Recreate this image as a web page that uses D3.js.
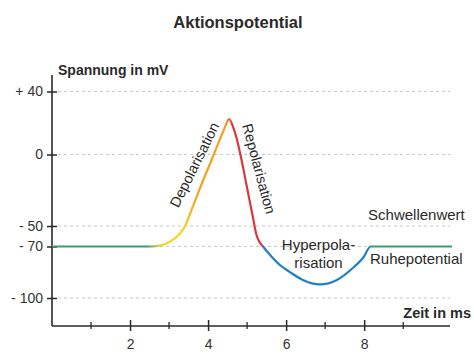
<!DOCTYPE html>
<html><head><meta charset="utf-8">
<script src="https://cdn.jsdelivr.net/npm/d3@7"></script>
<style>body{margin:0;background:#fff;}svg{display:block;font-family:"Liberation Sans",Arial,Helvetica,sans-serif;}</style>
</head><body>
<svg id="c" width="474" height="357"></svg>
<script>
const title = "Aktionspotential";
const yLabel = "Spannung in mV";
const xLabel = "Zeit in ms";
const yTicks = [40, 0, -50, -70, -100];
const yTickLabels = ["+ 40", "0", "- 50", "- 70", "- 100"];
const gridValues = [40, 0, -50, -70, -100];
const xMajorTicks = [2, 4, 6, 8];
const xMinorTicks = [1, 3, 5, 7, 9];
const curveT  = [0, 2.51, 2.82, 3.02, 3.28, 3.41, 3.555, 3.826, 4.152, 4.403, 4.54, 4.64, 4.73, 4.831, 4.985, 5.138, 5.241, 5.318, 5.408, 5.59, 5.84, 6.10, 6.43, 6.87, 7.30, 7.71, 7.97, 8.17, 10.25];
const curveMV = [-70, -70, -68.5, -65.3, -57.3, -50, -40.2, -21.3, 0.3, 15.6, 22.5, 17.5, 10.5, -0.35, -21.3, -42.3, -58.8, -65.6, -70, -75, -80.8, -84.9, -89.5, -92.1, -89.5, -82.5, -76.7, -70, -70];
const phaseStops = [[2.42,"#34a06a"],[2.80,"#f3d62a"],[3.30,"#f3d62a"],[3.75,"#f0a31f"],[4.45,"#f0a31f"],[4.62,"#d63a3c"],[5.39,"#d63a3c"],[5.41,"#1f7ec6"],[8.16,"#1f7ec6"],[8.17,"#34a06a"]];
const annotations = [
  {text:"Schwellenwert", t:8.1, v:-50, dx:0, dy:-6, anchor:"start"},
  {text:"Ruhepotential", t:8.15, v:-70, dx:0, dy:17, anchor:"start"}
];

const svg = d3.select("#c");
const x = d3.scaleLinear().domain([0, 10.2]).range([52, 450]);
const y = d3.scaleLinear().domain([-100, -70, -50, 0, 40]).range([298, 246.5, 226, 154.5, 91.5]);
const axisY0 = 326, axisTop = 75;
const ink = "#2a2a2a";

svg.append("text").attr("x", 238).attr("y", 28).attr("text-anchor","middle")
  .attr("font-size", 16.5).attr("font-weight","bold").attr("fill", ink).text(title);

// grid
svg.append("g").selectAll("line").data(gridValues).join("line")
  .attr("x1", x(0)).attr("x2", 450).attr("y1", d=>y(d)).attr("y2", d=>y(d))
  .attr("stroke","#c9c9c9").attr("stroke-dasharray","3,3").attr("stroke-width",1);

// y axis
const yAxis = d3.axisLeft(y).tickValues(yTicks).tickFormat((d,i)=>yTickLabels[i]).tickSize(5).tickPadding(4);
const gy = svg.append("g").attr("transform",`translate(${x(0)},0)`).call(yAxis);
gy.select(".domain").remove();
gy.selectAll(".tick line").attr("x2", 5).attr("x1",-5).attr("stroke", ink).attr("stroke-width",1.5);
gy.selectAll(".tick text").attr("font-size", 14).attr("fill","#333").attr("font-family","Liberation Sans, Arial, sans-serif");
svg.append("line").attr("x1",x(0)).attr("x2",x(0)).attr("y1",axisTop).attr("y2",axisY0).attr("stroke",ink).attr("stroke-width",1.6);

// x axis
const xAxis = d3.axisBottom(x).tickValues(xMajorTicks).tickFormat(d3.format("d")).tickSize(5).tickPadding(8);
const gx = svg.append("g").attr("transform",`translate(0,${axisY0})`).call(xAxis);
gx.select(".domain").remove();
gx.selectAll(".tick line").attr("y1",-6).attr("y2",5).attr("stroke",ink).attr("stroke-width",1.5);
gx.selectAll(".tick text").attr("font-size",14).attr("fill","#333").attr("font-family","Liberation Sans, Arial, sans-serif");
svg.append("g").selectAll("line").data(xMinorTicks).join("line")
  .attr("x1",d=>x(d)).attr("x2",d=>x(d)).attr("y1",axisY0-4).attr("y2",axisY0+3)
  .attr("stroke",ink).attr("stroke-width",1.3);
svg.append("line").attr("x1",x(0)).attr("x2",450).attr("y1",axisY0).attr("y2",axisY0).attr("stroke",ink).attr("stroke-width",1.6);

svg.append("text").attr("x",58).attr("y",75).attr("font-size",14).attr("font-weight","bold").attr("fill",ink).text(yLabel);
svg.append("text").attr("x",471).attr("y",318).attr("text-anchor","end").attr("font-size",14.5).attr("font-weight","bold").attr("fill",ink).text(xLabel);

// gradient
const defs = svg.append("defs");
const grad = defs.append("linearGradient").attr("id","phase").attr("gradientUnits","userSpaceOnUse")
  .attr("x1", x(0)).attr("x2", x(10.2)).attr("y1",0).attr("y2",0);
const span = x(10.2)-x(0);
grad.selectAll("stop").data(phaseStops).join("stop")
  .attr("offset", d => (x(d[0])-x(0))/span).attr("stop-color", d=>d[1]);

const pts = curveT.map((t,i)=>[t, curveMV[i]]);
const line = d3.line().x(d=>x(d[0])).y(d=>y(d[1])).curve(d3.curveMonotoneX);
svg.append("path").attr("d", line(pts)).attr("fill","none").attr("stroke","url(#phase)").attr("stroke-width",2.2);

// phase labels
const lab = svg.append("g").attr("font-size",14.5).attr("fill","#2a2a2a");
lab.append("text").attr("transform","translate(199,167) rotate(-63.5)").attr("text-anchor","middle").text("Depolarisation");
lab.append("text").attr("transform","translate(254,170) rotate(75)").attr("text-anchor","middle").text("Repolarisation");
lab.append("text").attr("x",318.5).attr("y",250).attr("text-anchor","middle").attr("font-size",15).text("Hyperpola-");
lab.append("text").attr("x",318.5).attr("y",268).attr("text-anchor","middle").attr("font-size",15).text("risation");
lab.selectAll("text.ann").data(annotations).join("text").attr("class","ann")
  .attr("x", d=>x(d.t)+d.dx).attr("y", d=>y(d.v)+d.dy).attr("text-anchor", d=>d.anchor)
  .attr("font-size",15).text(d=>d.text);
</script>
</body></html>
